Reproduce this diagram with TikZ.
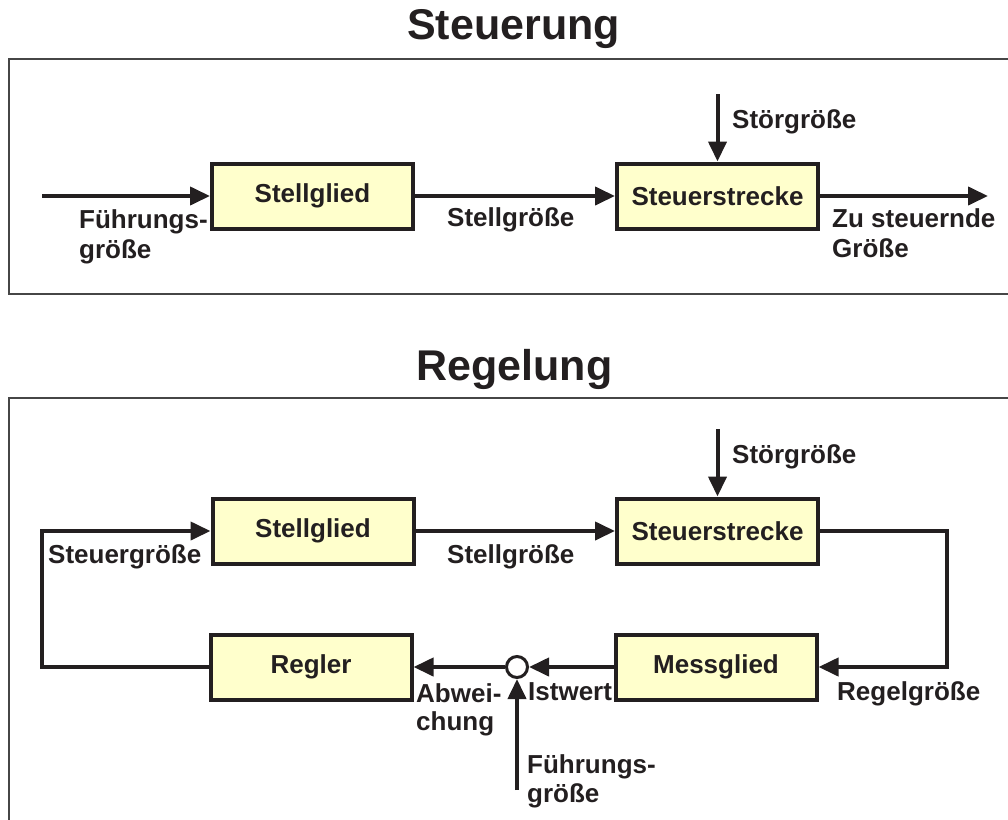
\documentclass[tikz,border=0pt]{standalone}
\usepackage{fontspec}
\setmainfont{Liberation Sans}
\usetikzlibrary{arrows.meta}
\definecolor{ink}{RGB}{35,31,32}
\definecolor{boxfill}{RGB}{255,255,204}
\definecolor{framegray}{RGB}{70,70,70}

\begin{document}
\begin{tikzpicture}[x=1pt,y=-1pt,
  blk/.style={draw=ink, fill=boxfill, line width=4pt, minimum width=201pt,
    minimum height=65pt, inner sep=0pt, text=ink,
    font=\fontsize{26}{30}\selectfont\bfseries},
  lbl/.style={anchor=base west, inner sep=0pt, text=ink,
    font=\fontsize{26}{30}\selectfont\bfseries},
  ttl/.style={anchor=base, inner sep=0pt, text=ink,
    font=\fontsize{43}{50}\selectfont\bfseries},
  flow/.style={draw=ink, line width=4pt, -{Triangle[length=20pt,width=18pt]}},
  sumpt/.style={circle, draw=ink, fill=white, line width=3pt,
    minimum size=21pt, inner sep=0pt},
  framing/.style={draw=framegray, line width=1.5pt}]

\useasboundingbox (0,0) rectangle (1008,819);

% ---------------- open-loop control ----------------
\node[ttl] (t1) at (513.5,39.5) {Steuerung};
\draw[framing] (1012,59) -- (9,59) -- (9,294) -- (1012,294);

\node[blk] (sg1) at (312.5,196) {Stellglied};
\node[blk] (ss1) at (717.5,196) {Steuerstrecke};
\coordinate (in1) at (42,196);
\coordinate (out1) at (988,196);
\coordinate (dist1) at (717.5,94);

\draw[flow] (in1) -- (sg1.west);
\draw[flow] (sg1.east) -- (ss1.west);
\draw[flow] (ss1.east) -- (out1);
\draw[flow] (dist1) -- (ss1.north);

\node[lbl] (fa1) at (79,228) {Führungs-};
\node[lbl] (fb1) at (79,258) {größe};
\node[lbl] (sgr1) at (447,226) {Stellgröße};
\node[lbl] (stg1) at (732,128) {Störgröße};
\node[lbl] (za1) at (832,227) {Zu steuernde};
\node[lbl] (zb1) at (832,257) {Größe};

% ---------------- closed-loop control ----------------
\node[ttl] (t2) at (514.5,380) {Regelung};
\draw[framing] (1012,398) -- (9,398) -- (9,830);

\node[blk] (sg2) at (313,531) {Stellglied};
\node[blk] (ss2) at (717.5,531) {Steuerstrecke};
\node[blk] (rg2) at (311,667) {Regler};
\node[blk] (mg2) at (716,667) {Messglied};
\node[sumpt] (sum2) at (517,667) {};
\coordinate (fbl) at (42,531);
\coordinate (fbr) at (947,531);
\coordinate (ref2) at (517,790);
\coordinate (dist2) at (717.5,429);

\draw[flow] (rg2.west) -| (fbl) -- (sg2.west);
\draw[flow] (sg2.east) -- (ss2.west);
\draw[flow] (dist2) -- (ss2.north);
\draw[flow] (ss2.east) -- (fbr) |- (mg2.east);
\draw[flow] (mg2.west) -- (sum2.east);
\draw[flow] (sum2.west) -- (rg2.east);
\draw[flow] (ref2) -- (sum2.south);

\node[lbl] (stq2) at (48,563) {Steuergröße};
\node[lbl] (sgr2) at (447,563) {Stellgröße};
\node[lbl] (stg2) at (732,463) {Störgröße};
\node[lbl] (ab2) at (416,702) {Abwei-};
\node[lbl] (ch2) at (416,730) {chung};
\node[lbl] (ist2) at (528,700) {Istwert};
\node[lbl] (rgg2) at (837,700) {Regelgröße};
\node[lbl] (fa2) at (527,773) {Führungs-};
\node[lbl] (fb2) at (527,802) {größe};
\end{tikzpicture}
\end{document}
